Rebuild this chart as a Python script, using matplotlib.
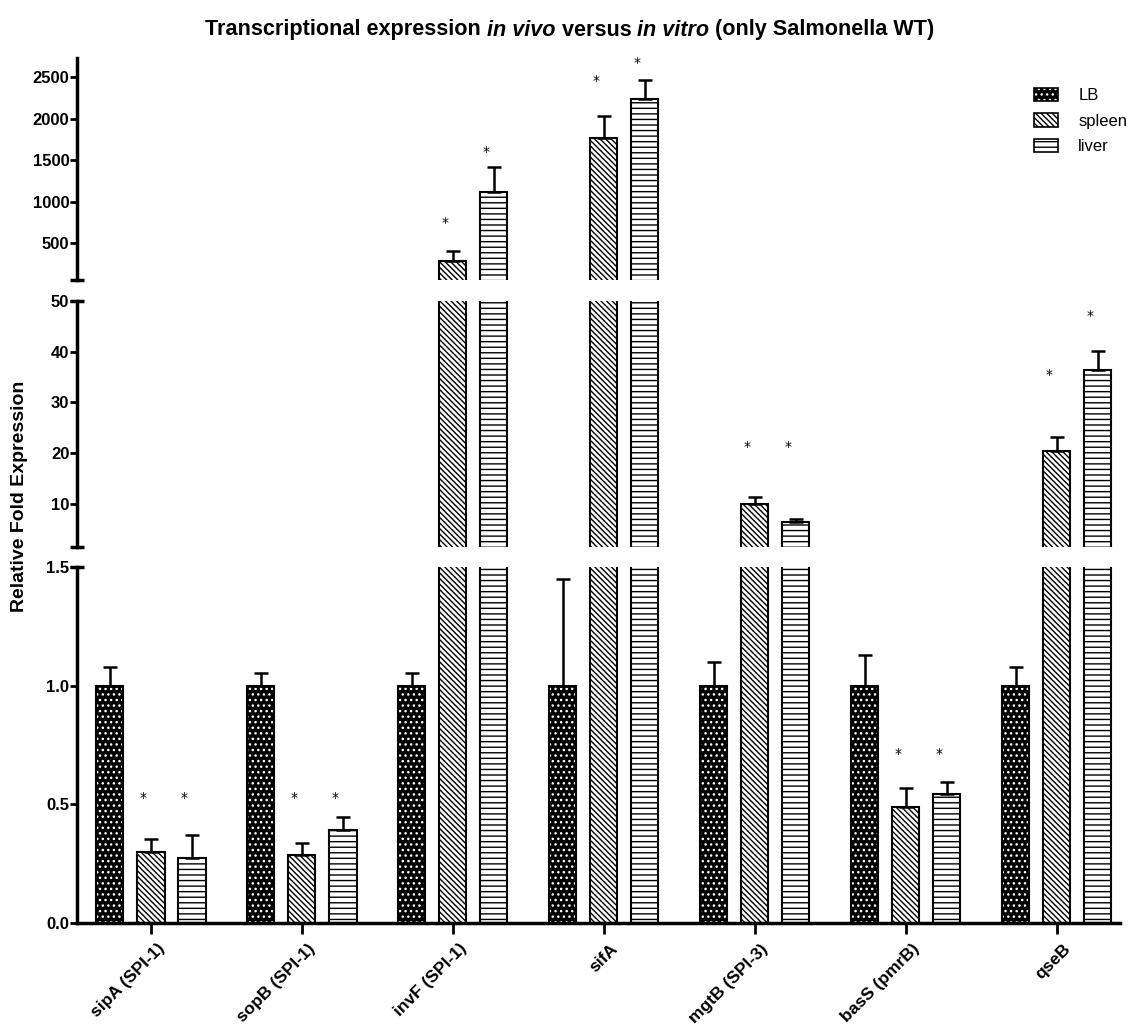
import matplotlib
matplotlib.use('Agg')
import matplotlib.pyplot as plt
import matplotlib.transforms as mtransforms
import numpy as np
from matplotlib.patches import Patch
from matplotlib.legend_handler import HandlerTuple

genes = ['sipA (SPI-1)', 'sopB (SPI-1)', 'invF (SPI-1)', 'sifA', 'mgtB (SPI-3)', 'basS (pmrB)', 'qseB']
lb = [1.0, 1.0, 1.0, 1.0, 1.0, 1.0, 1.0]
lb_err = [0.08, 0.055, 0.055, 0.45, 0.10, 0.13, 0.08]
spleen = [0.30, 0.288, 283, 1765, 10.0, 0.487, 20.4]
spleen_err = [0.056, 0.047, 121, 265, 1.4, 0.08, 2.8]
liver = [0.275, 0.39, 1114, 2235, 6.4, 0.542, 36.3]
liver_err = [0.095, 0.055, 302, 229, 0.6, 0.051, 3.8]
# where the significance stars sit (data units)
star_spleen = [0.525, 0.525, 740, 2452, 21.2, 0.71, 35.4]
star_liver = [0.525, 0.525, 1597, 2669, 21.2, 0.71, 47.0]

FONT = 'Liberation Sans'
W, H = 1129, 1029
fig = plt.figure(figsize=(W / 100, H / 100), dpi=100)


def px_axes(x0, y_top, x1, y_bot):
    return fig.add_axes([x0 / W, 1 - y_bot / H, (x1 - x0) / W, (y_bot - y_top) / H])


ax_top = px_axes(77, 58, 1120, 280)
ax_mid = px_axes(77, 301, 1120, 547)
ax_bot = px_axes(77, 567, 1120, 923)
limits = [(54, 2730), (1.5, 50), (0, 1.5)]
axes = [ax_top, ax_mid, ax_bot]

x = np.arange(len(genes))
off = 0.272
w = 0.18
diag = '\\\\\\\\\\\\'

for ax, (lo, hi) in zip(axes, limits):
    series = [(x - off, np.array(lb), np.array(lb_err), 'lb'),
              (x, np.array(spleen), np.array(spleen_err), diag),
              (x + off, np.array(liver), np.array(liver_err), '---')]
    for xs, v, e, pat in series:
        keep = v > lo  # only bars that reach into this segment
        if not keep.any():
            continue
        if pat == 'lb':
            ax.bar(xs[keep], v[keep], w, color='black', edgecolor='white', hatch='...', linewidth=0)
            ax.bar(xs[keep], v[keep], w, fill=False, edgecolor='black', linewidth=1.5)
        else:
            ax.bar(xs[keep], v[keep], w, color='white', edgecolor='black', hatch=pat, linewidth=1.5)
        # error bars only where the bar top falls inside this segment
        m = (v >= lo) & (v < hi)
        if m.any():
            ax.errorbar(xs[m], v[m], yerr=[np.zeros(m.sum()), e[m]], fmt='none', ecolor='black',
                        elinewidth=1.8, capsize=5, capthick=1.8)
    ax.set_xlim(-0.49, 6.42)
    ax.set_ylim(lo, hi)
    for s in ['top', 'right']:
        ax.spines[s].set_visible(False)
    ax.spines['left'].set_linewidth(2.5)
    ax.spines['bottom'].set_linewidth(2.5)
    ax.tick_params(axis='y', direction='out', length=5, width=2, pad=0.5)

# stars
for xs, ys in [(x - 0.05, star_spleen), (x + off - 0.05, star_liver)]:
    for xi, yi in zip(xs, ys):
        ax = ax_top if yi > 50 else (ax_mid if yi > 1.5 else ax_bot)
        ax.text(xi, yi, '*', ha='center', va='center', fontsize=10, clip_on=False)

ax_top.set_yticks([500, 1000, 1500, 2000, 2500])
ax_mid.set_yticks([10, 20, 30, 40, 50])
ax_bot.set_yticks([0, 0.5, 1.0, 1.5])
ax_bot.set_yticklabels(['0.0', '0.5', '1.0', '1.5'])
for ax in axes:
    for lab in ax.get_yticklabels():
        lab.set_fontfamily(FONT)
        lab.set_fontweight('bold')
        lab.set_fontsize(12)

for ax in [ax_top, ax_mid]:
    ax.spines['bottom'].set_visible(False)
    ax.set_xticks([])

# caps at the axis breaks
for ax, yy in [(ax_top, 0), (ax_mid, 0), (ax_mid, 1), (ax_bot, 1)]:
    ax.plot(0, yy, marker='_', ms=10, mew=2.5, color='black', transform=ax.transAxes, clip_on=False)

ax_bot.set_xticks(x)
ax_bot.set_xticklabels(genes, rotation=45, ha='right', rotation_mode='anchor',
                       fontfamily=FONT, fontweight='bold', fontsize=12.5)
ax_bot.tick_params(axis='x', direction='out', length=8, width=2, pad=5)
shift = mtransforms.ScaledTranslation(6 / 100, 0, fig.dpi_scale_trans)
for lab in ax_bot.get_xticklabels():
    lab.set_transform(lab.get_transform() + shift)

# legend
lb_handle = (Patch(facecolor='black', edgecolor='white', hatch='...', linewidth=0),
             Patch(fill=False, edgecolor='black', linewidth=1.2))
sp_handle = Patch(facecolor='white', edgecolor='black', hatch=diag, linewidth=1.2)
lv_handle = Patch(facecolor='white', edgecolor='black', hatch='---', linewidth=1.2)
fig.legend([lb_handle, sp_handle, lv_handle], ['LB', 'spleen', 'liver'],
           handler_map={tuple: HandlerTuple(ndivide=1, pad=0)},
           loc='upper left', bbox_to_anchor=(1034 / W, 1 - 88 / H), frameon=False,
           prop={'family': FONT, 'size': 12}, handlelength=1.45, handleheight=0.85,
           handletextpad=1.2, labelspacing=0.6, borderaxespad=0, borderpad=0)

fig.text(20 / W, 1 - 496 / H, 'Relative Fold Expression', rotation=90, ha='center', va='center',
         fontsize=14, fontweight='bold', fontfamily=FONT)

# title with italic parts
pieces = [('Transcriptional expression ', 'normal'), ('in vivo', 'italic'), (' versus ', 'normal'),
          ('in vitro', 'italic'), (' (only Salmonella WT)', 'normal')]
renderer = fig.canvas.get_renderer()
texts = []
for s, st in pieces:
    t = fig.text(0, 1 - 30 / H, s, fontsize=15.6, fontweight='bold', style=st, fontfamily=FONT,
                 va='center', ha='left')
    texts.append(t)
widths = [t.get_window_extent(renderer).width for t in texts]
xpos = 570 - sum(widths) / 2
for t, wd in zip(texts, widths):
    t.set_x(xpos / W)
    xpos += wd

fig.savefig('out.png', dpi=100)
